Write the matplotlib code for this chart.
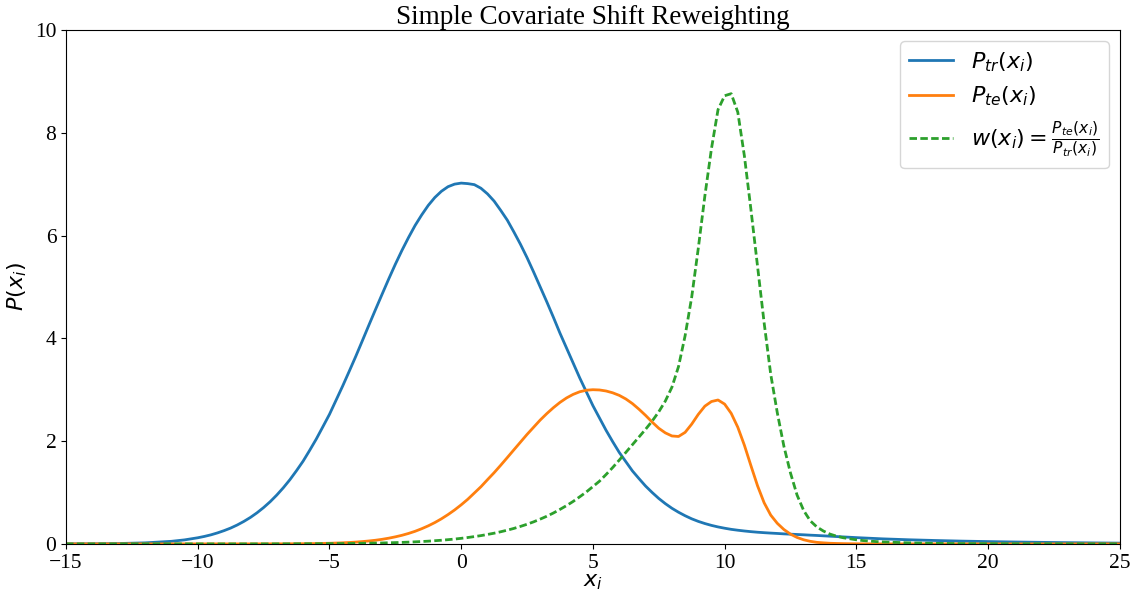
import numpy as np
import matplotlib
matplotlib.use("Agg")
import matplotlib.pyplot as plt

plt.rcParams['font.family'] = ['Liberation Serif', 'DejaVu Serif']
plt.rcParams['mathtext.fontset'] = 'dejavusans'

# sample positions: coarse in the far tails, every 0.25 in between
x = ([-15, -14, -13, -12, -11, -10.5]
     + list(np.arange(-10, 16.01, 0.25))
     + [17, 18, 19, 20, 21, 22, 23, 24, 25])

# training density P_tr(x_i)
p_tr = ([0.001, 0.002, 0.007, 0.02, 0.05, 0.078]
        + [0.119, 0.145, 0.176, 0.214,
           0.258, 0.308, 0.368, 0.437,
           0.515, 0.605, 0.707, 0.821,
           0.95, 1.093, 1.25, 1.425,
           1.61, 1.821, 2.04, 2.279,
           2.52, 2.795, 3.07, 3.358,
           3.65, 3.954, 4.26, 4.562,
           4.86, 5.155, 5.44, 5.709,
           5.96, 6.195, 6.40, 6.586,
           6.74, 6.861, 6.95, 7.0,
           7.02, 7.01, 6.99, 6.92,
           6.81, 6.67, 6.49, 6.30,
           6.07, 5.83, 5.57, 5.29,
           5.00, 4.71, 4.41, 4.10,
           3.81, 3.52, 3.23, 2.96,
           2.69, 2.45, 2.21, 1.99,
           1.78, 1.60, 1.42, 1.27,
           1.125, 1.00, 0.884, 0.783,
           0.693, 0.616, 0.548, 0.488,
           0.438, 0.396, 0.36, 0.33,
           0.305, 0.283, 0.266, 0.251,
           0.238, 0.227, 0.218, 0.21,
           0.203, 0.195, 0.189, 0.183,
           0.177, 0.170, 0.164, 0.157,
           0.150, 0.143, 0.136, 0.129,
           0.122, 0.116, 0.110, 0.104,
           0.098]
        + [0.08, 0.066, 0.054, 0.045, 0.037, 0.03, 0.024, 0.019, 0.015])

# test density P_te(x_i)
p_te = ([0, 0, 0, 0, 0, 0]
        + [0, 0, 0, 0,
           0, 0, 0, 0,
           0, 0, 0.001, 0.001,
           0.001, 0.001, 0.002, 0.003,
           0.004, 0.005, 0.007, 0.009,
           0.012, 0.016, 0.021, 0.027,
           0.035, 0.045, 0.057, 0.071,
           0.089, 0.111, 0.137, 0.167,
           0.203, 0.245, 0.295, 0.351,
           0.415, 0.488, 0.57, 0.66,
           0.76, 0.868, 0.99, 1.112,
           1.25, 1.385, 1.53, 1.679,
           1.83, 1.98, 2.13, 2.27,
           2.41, 2.535, 2.65, 2.753,
           2.84, 2.909, 2.96, 2.99,
           3.00, 2.995, 2.975, 2.94,
           2.89, 2.82, 2.73, 2.62,
           2.50, 2.37, 2.25, 2.16,
           2.10, 2.09, 2.17, 2.33,
           2.52, 2.68, 2.77, 2.80,
           2.72, 2.54, 2.27, 1.92,
           1.52, 1.13, 0.80, 0.56,
           0.40, 0.28, 0.19, 0.125,
           0.08, 0.05, 0.03, 0.02,
           0.012, 0.008, 0.005, 0.003,
           0.002, 0.001, 0.001, 0,
           0]
        + [0, 0, 0, 0, 0, 0, 0, 0, 0])

# importance weight w(x_i) = P_te / P_tr
w = ([0, 0, 0, 0, 0, 0]
     + [0, 0, 0, 0,
        0, 0, 0, 0,
        0, 0, 0, 0,
        0.001, 0.001, 0.001, 0.002,
        0.0025, 0.003, 0.0034, 0.004,
        0.005, 0.0057, 0.0068, 0.008,
        0.0096, 0.0114, 0.0134, 0.0156,
        0.018, 0.0215, 0.025, 0.029,
        0.034, 0.040, 0.046, 0.053,
        0.062, 0.071, 0.082, 0.094,
        0.108, 0.124, 0.142, 0.161,
        0.184, 0.208, 0.236, 0.267,
        0.301, 0.34, 0.382, 0.429,
        0.482, 0.538, 0.601, 0.671,
        0.745, 0.826, 0.916, 1.01,
        1.115, 1.22, 1.35, 1.485,
        1.63, 1.78, 1.93, 2.08,
        2.23, 2.39, 2.57, 2.78,
        3.05, 3.45, 4.05, 4.8,
        5.75, 6.77, 7.69, 8.45,
        8.72, 8.76, 8.4, 7.55,
        6.5, 5.4, 4.3, 3.3,
        2.55, 1.9, 1.38, 0.95,
        0.65, 0.45, 0.33, 0.25,
        0.19, 0.15, 0.12, 0.10,
        0.08, 0.065, 0.055, 0.045,
        0.038]
     + [0.02, 0.01, 0.005, 0.003, 0.002, 0.001, 0, 0, 0])

fig = plt.figure(figsize=(11.38, 5.99), dpi=100)
ax = fig.add_subplot(111)
fig.subplots_adjust(left=0.058, right=0.984, top=0.950, bottom=0.092)

ax.plot(x, p_tr, color='C0', lw=2, label=r'$P_{tr}(x_i)$')
ax.plot(x, p_te, color='C1', lw=2, label=r'$P_{te}(x_i)$')
ax.plot(x, w, color='C2', lw=2, ls=(0, (2.7, 1.2)),
        label=r'$w(x_i)=\frac{P_{te}(x_i)}{P_{tr}(x_i)}$')

ax.set_xlim(-15, 25)
ax.set_ylim(0, 10)
ax.set_title('Simple Covariate Shift Reweighting', fontsize=19.5, pad=4)
ax.set_xlabel(r'$x_i$', fontsize=16, labelpad=0)
ax.set_ylabel(r'$P(x_i)$', fontsize=16)
ax.tick_params(labelsize=15.5)
ax.legend(fontsize=16, loc='upper right')

plt.savefig('out.png', dpi=100)
